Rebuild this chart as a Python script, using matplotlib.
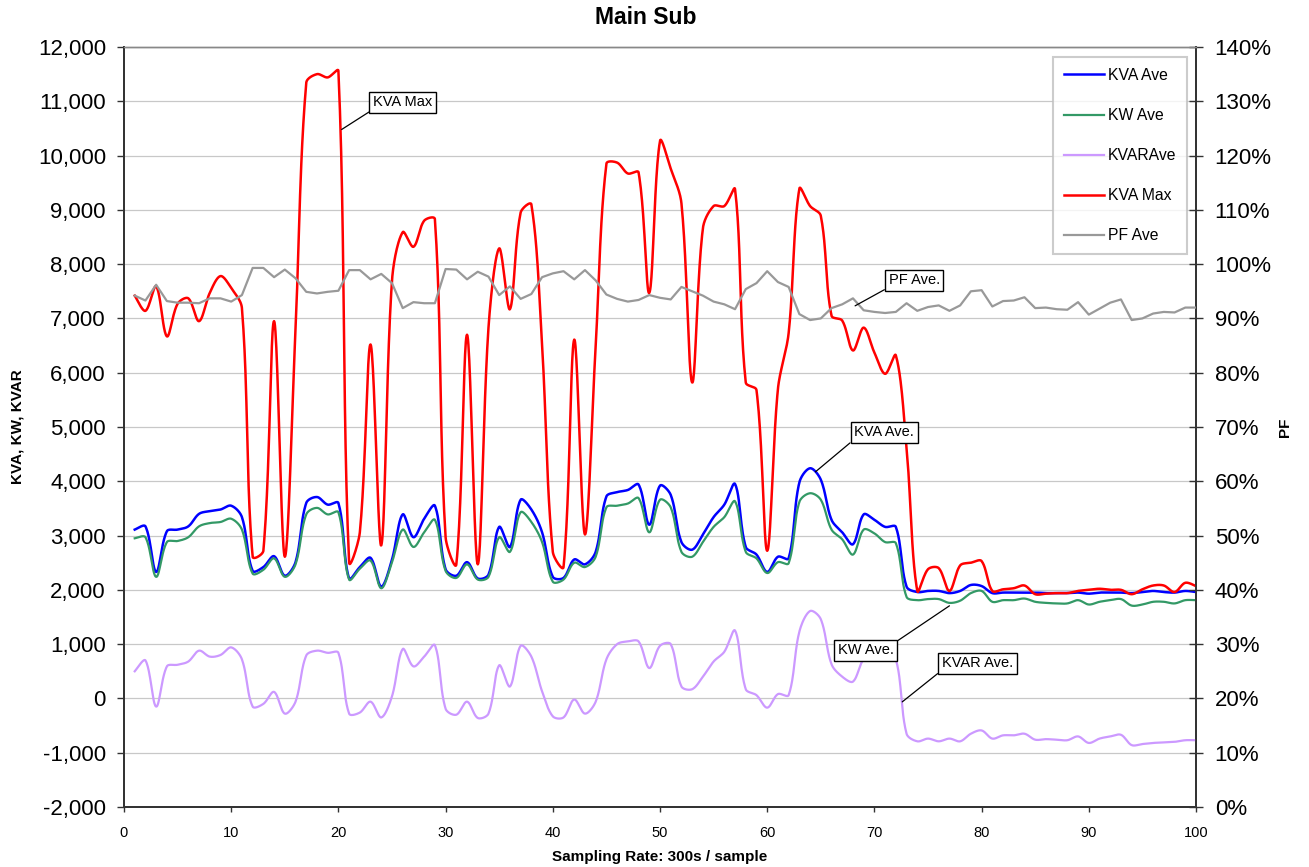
import numpy as np
import matplotlib
matplotlib.use("Agg")
import matplotlib.pyplot as plt
from matplotlib.ticker import FuncFormatter, MultipleLocator

plt.rcParams['font.family'] = ['Liberation Sans', 'DejaVu Sans']

samples = list(range(1, 101))

kva_max = [7420, 7140, 7590, 6670, 7270, 7370, 6950, 7470, 7780, 7560,
           7190, 2610, 2720, 6950, 2610, 6800, 11340, 11500, 11440, 11560,
           2510, 3060, 6520, 2820, 7700, 8590, 8320, 8800, 8830, 2970,
           2470, 6700, 2470, 6830, 8290, 7170, 8950, 9100, 6500, 2700,
           2420, 6610, 3020, 6500, 9850, 9870, 9670, 9690, 7470, 10270,
           9760, 9120, 5820, 8660, 9070, 9070, 9380, 5820, 5680, 2720,
           5700, 6730, 9390, 9070, 8890, 7050, 6960, 6410, 6830, 6370,
           5980, 6320, 4620, 1980, 2380, 2400, 1980, 2450, 2500, 2530,
           1980, 2010, 2030, 2080, 1920, 1930, 1940, 1940, 1980, 2000,
           2020, 2000, 2000, 1920, 2010, 2080, 2080, 1960, 2130, 2070]

kva_ave = [3110, 3170, 2330, 3080, 3110, 3170, 3400, 3450, 3480, 3550,
           3340, 2350, 2420, 2620, 2260, 2510, 3600, 3710, 3570, 3600,
           2210, 2420, 2590, 2060, 2560, 3390, 2970, 3310, 3550, 2380,
           2260, 2510, 2210, 2280, 3160, 2790, 3660, 3480, 3060, 2240,
           2220, 2560, 2470, 2700, 3720, 3800, 3840, 3940, 3200, 3920,
           3750, 2880, 2740, 3020, 3340, 3570, 3950, 2790, 2650, 2330,
           2610, 2580, 3980, 4240, 4030, 3290, 3060, 2840, 3390, 3290,
           3160, 3160, 2060, 1960, 1980, 1980, 1940, 1980, 2090, 2070,
           1940, 1950, 1950, 1950, 1950, 1940, 1940, 1940, 1950, 1930,
           1950, 1950, 1950, 1940, 1960, 1980, 1960, 1950, 1980, 1960]

kw_ave = [2950, 2970, 2240, 2880, 2900, 2970, 3170, 3230, 3250, 3310,
          3110, 2300, 2370, 2580, 2240, 2470, 3390, 3510, 3390, 3430,
          2190, 2390, 2540, 2030, 2510, 3110, 2790, 3060, 3290, 2350,
          2220, 2470, 2190, 2240, 2970, 2700, 3430, 3250, 2880, 2150,
          2190, 2500, 2420, 2610, 3520, 3550, 3590, 3690, 3060, 3660,
          3520, 2700, 2610, 2880, 3160, 3340, 3630, 2700, 2580, 2310,
          2510, 2490, 3620, 3780, 3660, 3110, 2930, 2650, 3110, 3040,
          2880, 2860, 1870, 1810, 1830, 1830, 1760, 1800, 1940, 1980,
          1780, 1810, 1810, 1840, 1780, 1760, 1750, 1750, 1810, 1730,
          1780, 1810, 1830, 1710, 1730, 1780, 1780, 1750, 1810, 1810]

kvar_ave = [500, 700, -150, 590, 620, 680, 880, 770, 800, 940,
            720, -150, -100, 120, -280, -60, 790, 880, 840, 840,
            -280, -260, -60, -350, 40, 910, 590, 770, 980, -190,
            -300, -60, -360, -280, 610, 220, 970, 770, 130, -330,
            -350, -20, -280, -60, 720, 1000, 1050, 1050, 560, 970,
            1000, 220, 170, 400, 680, 860, 1250, 170, 60, -170,
            80, 60, 1230, 1610, 1460, 630, 400, 310, 720, 770,
            720, 720, -650, -790, -740, -790, -740, -790, -650, -590,
            -740, -680, -680, -650, -760, -750, -760, -770, -700, -820,
            -740, -700, -670, -860, -840, -820, -810, -800, -770, -770]

pf_ave = [94.2, 93.3, 96.2, 93.2, 92.9, 92.9, 92.8, 93.7, 93.7, 93.1,
          94.3, 99.3, 99.3, 97.6, 99.0, 97.4, 94.9, 94.6, 94.9, 95.1,
          98.9, 98.9, 97.2, 98.2, 96.5, 91.9, 93.0, 92.8, 92.8, 99.1,
          99.0, 97.2, 98.6, 97.7, 94.3, 95.9, 93.6, 94.5, 97.6, 98.3,
          98.7, 97.2, 98.9, 97.0, 94.4, 93.6, 93.1, 93.4, 94.3, 93.8,
          93.5, 95.8, 95.0, 94.2, 93.1, 92.6, 91.7, 95.4, 96.5, 98.7,
          96.7, 95.8, 90.8, 89.7, 90.0, 91.9, 92.6, 93.7, 91.5, 91.2,
          91.0, 91.2, 92.8, 91.4, 92.1, 92.4, 91.4, 92.4, 95.0, 95.2,
          92.2, 93.2, 93.3, 93.9, 91.9, 92.0, 91.7, 91.6, 93.0, 90.7,
          91.8, 92.9, 93.5, 89.7, 90.0, 90.9, 91.2, 91.1, 92.0, 92.0]

X_MIN, X_MAX = 0, 100
Y_MIN, Y_MAX = -2000, 12000
AX_W_PX, AX_H_PX = 1196 - 124, 807 - 47


def smooth(xs, ys, steps=24):
    """Bezier curve through every point; tangent arms are scaled by the
    neighbouring chord lengths measured on screen, which keeps the curve
    from overshooting next to steep jumps."""
    sx = AX_W_PX / (X_MAX - X_MIN)
    sy = AX_H_PX / (Y_MAX - Y_MIN)
    P = np.column_stack([np.asarray(xs, float) * sx, np.asarray(ys, float) * sy])
    n = len(P)
    seg = np.linalg.norm(np.diff(P, axis=0), axis=1)
    T = np.empty_like(P)
    for i in range(n):
        T[i] = P[min(i + 1, n - 1)] - P[max(i - 1, 0)]
    t = np.linspace(0, 1, steps, endpoint=False)[:, None]
    out = []
    for i in range(n - 1):
        d_i = seg[i]
        d_before = seg[i - 1] if i > 0 else d_i
        d_after = seg[i + 1] if i + 1 < n - 1 else d_i
        c1 = P[i] + T[i] * (d_i / (d_before + d_i + 1e-12)) / 3
        c2 = P[i + 1] - T[i + 1] * (d_i / (d_i + d_after + 1e-12)) / 3
        b = ((1 - t) ** 3 * P[i] + 3 * (1 - t) ** 2 * t * c1
             + 3 * (1 - t) * t ** 2 * c2 + t ** 3 * P[i + 1])
        out.append(b)
    out.append(P[-1:])
    curve = np.vstack(out)
    return curve[:, 0] / sx, curve[:, 1] / sy


fig = plt.figure(figsize=(13.09, 8.67), dpi=100)
ax = fig.add_axes([124 / 1309, 60 / 867, AX_W_PX / 1309, AX_H_PX / 867])
ax2 = ax.twinx()

series = [
    (kva_ave, 'KVA Ave', '#0000FF', 1.8),
    (kw_ave, 'KW Ave', '#339966', 1.6),
    (kvar_ave, 'KVARAve', '#CC99FF', 1.6),
    (kva_max, 'KVA Max', '#FF0000', 1.8),
]
handles = []
for vals, name, col, lw in series:
    cx, cy = smooth(samples, vals)
    h, = ax.plot(cx, cy, color=col, lw=lw, label=name, zorder=3)
    handles.append(h)

hpf, = ax2.plot(samples, pf_ave, color='#999999', lw=1.6, label='PF Ave', zorder=3)
handles.append(hpf)

ax.set_xlim(X_MIN, X_MAX)
ax.set_ylim(Y_MIN, Y_MAX)
ax2.set_ylim(0, 140)

ax.xaxis.set_major_locator(MultipleLocator(10))
ax.yaxis.set_major_locator(MultipleLocator(1000))
ax2.yaxis.set_major_locator(MultipleLocator(10))
ax.yaxis.set_major_formatter(FuncFormatter(lambda v, p: f"{v:,.0f}"))
ax2.yaxis.set_major_formatter(FuncFormatter(lambda v, p: f"{v:.0f}%"))

ax.grid(axis='y', color='#c8c8c8', lw=0.9)
ax.set_axisbelow(True)

ax.tick_params(axis='y', direction='out', length=5, width=1, labelsize=16, pad=8,
               colors='#333333', labelcolor='black')
ax.tick_params(axis='x', direction='out', length=3.6, width=1, labelsize=10.5, pad=10,
               colors='#333333', labelcolor='black')
ax2.tick_params(axis='y', direction='inout', length=10, width=1, labelsize=16, pad=8.5,
                colors='#333333', labelcolor='black')

for a in (ax, ax2):
    for s in ('left', 'bottom', 'right'):
        a.spines[s].set_color('#333333')
        a.spines[s].set_linewidth(1.3)
    a.spines['top'].set_color('#888888')
    a.spines['top'].set_linewidth(1.0)

fig.text(646 / 1309, 1 - 17.5 / 867, 'Main Sub', fontsize=16.5, fontweight='bold',
         ha='center', va='center')
ax.set_xlabel('Sampling Rate: 300s / sample', fontsize=11, fontweight='bold')
ax.xaxis.set_label_coords((660 - 124) / AX_W_PX, -(857 - 807) / AX_H_PX)
ax.set_ylabel('KVA, KW, KVAR', fontsize=11, fontweight='bold')
ax.yaxis.set_label_coords(-(124 - 18) / AX_W_PX, 0.5)
ax2.set_ylabel('PF', fontsize=11, fontweight='bold')
ax2.yaxis.set_label_coords(1 + (1285 - 1196) / AX_W_PX, 0.5)
ax.xaxis.label.set_va('center')
ax.yaxis.label.set_va('center')
ax2.yaxis.label.set_va('center')

leg = ax2.legend(handles=handles, loc='upper right',
                 bbox_to_anchor=(1187 / 1309, 1 - 57 / 867), bbox_transform=fig.transFigure,
                 fontsize=11.3, frameon=True, fancybox=False, edgecolor='#c0c0c0',
                 labelspacing=1.6, handlelength=2.5, handletextpad=0.25,
                 borderpad=0.7, borderaxespad=0)
leg.get_frame().set_linewidth(1.5)
leg.set_zorder(10)

box = dict(boxstyle='square,pad=0.25', fc='white', ec='black', lw=1)
callouts = [
    ('KVA Max', (20.3, 10480), (26.0, 10980), (0, 0)),
    ('PF Ave.', (68.2, 7232), (73.7, 7700), (0, 0)),
    ('KVA Ave.', (64.5, 4174), (70.9, 4900), (0, 0)),
    ('KW Ave.', (77.0, 1706), (69.2, 886), (1, 1)),
    ('KVAR Ave.', (72.6, -63), (79.6, 647), (0, 0)),
]
for text, tip, pos, rel in callouts:
    ax2.annotate(text, xy=tip, xycoords=ax.transData, xytext=pos, textcoords=ax.transData,
                 ha='center', va='center', fontsize=10.5, bbox=box, zorder=8,
                 arrowprops=dict(arrowstyle='-', color='black', lw=0.9,
                                 shrinkA=0, shrinkB=0, relpos=rel))

fig.savefig('out.png', dpi=100)
